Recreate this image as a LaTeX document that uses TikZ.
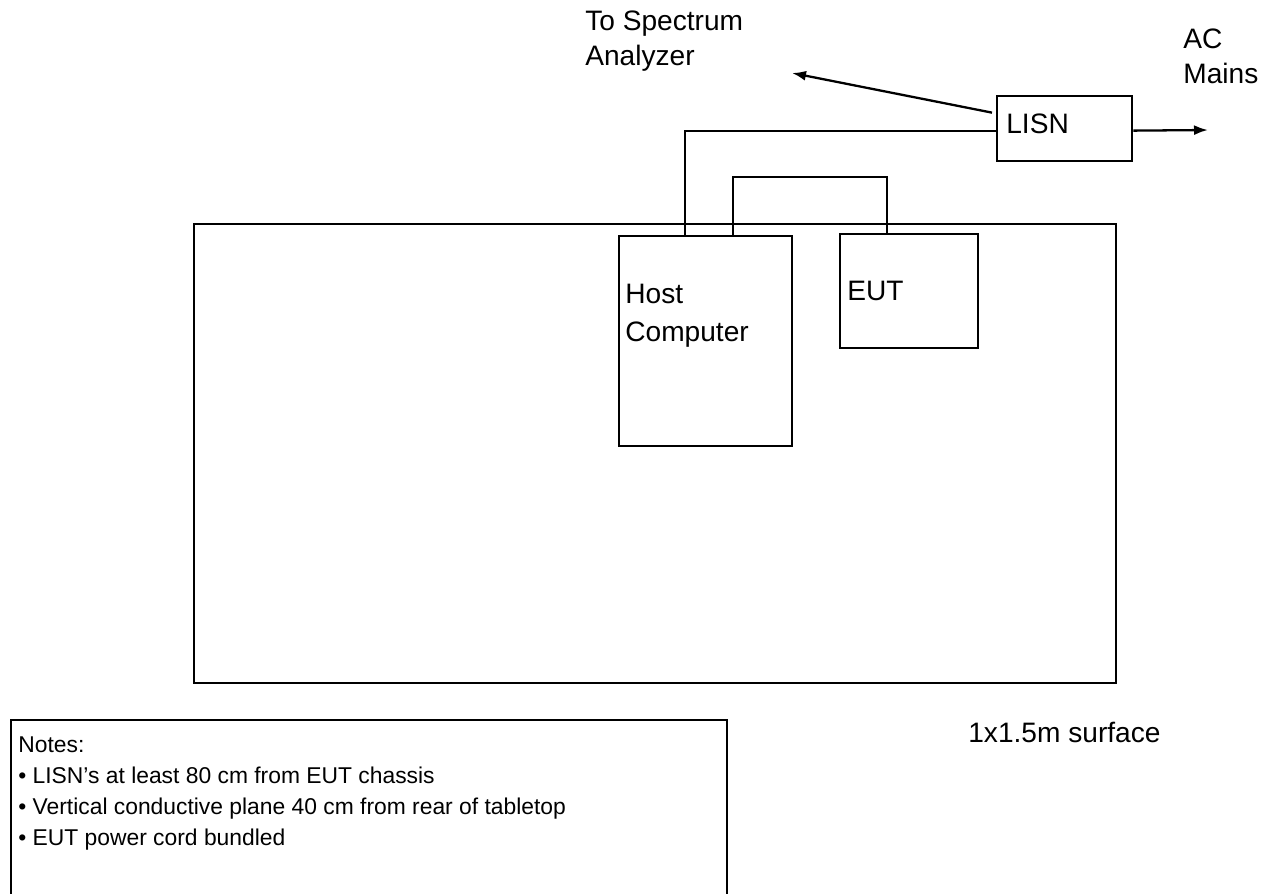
\documentclass[tikz,border=0pt]{standalone}
\usepackage{fontspec}
\setmainfont{Liberation Sans}
\usetikzlibrary{arrows.meta,calc}
\tikzset{
  box/.style={draw, line width=1.3pt, inner sep=0pt, rectangle},
  wire/.style={line width=1.3pt},
  thinwire/.style={line width=1pt},
  arr/.style={line width=1.3pt, -{Latex[length=0.28cm,width=0.2cm]}},
  txt/.style={anchor=base west, inner sep=0pt, font=\fontsize{16}{19}\selectfont},
  note/.style={anchor=base west, inner sep=0pt, font=\fontsize{13}{16}\selectfont},
}
\begin{document}
\begin{tikzpicture}[x=0.02cm, y=-0.02cm]
\useasboundingbox (0,0) rectangle (1264,893);
\clip (0,0) rectangle (1264,893);
% table surface
\node[box, minimum width=18.44cm, minimum height=9.18cm, anchor=north west] (table) at (193,223) {};
% host computer and EUT
\node[box, minimum width=3.46cm, minimum height=4.2cm, anchor=north west] (host) at (618,235) {};
\node[box, minimum width=2.76cm, minimum height=2.28cm, anchor=north west] (eut) at (839,233) {};
\node[box, minimum width=2.7cm, minimum height=1.3cm, anchor=north west] (lisn) at (996,95) {};
% labels
\node[txt] (lisnlbl) at (1006,133) {LISN};
\node[txt] (hostlbl1) at (625,303) {Host};
\node[txt] (hostlbl2) at (625,341) {Computer};
\node[txt] (eutlbl) at (847,300) {EUT};
\node[txt] (spec1) at (585,30) {To Spectrum};
\node[txt] (spec2) at (585,65) {Analyzer};
\node[txt] (ac1) at (1183,48) {AC};
\node[txt] (ac2) at (1183,83) {Mains};
\node[txt] (surf) at (968,742) {1x1.5m surface};
% cables
\coordinate (hostpwr) at ($(host.north west)+(67,0)$);
\draw[thinwire] ($(lisn.west)+(0,2)$) -| (hostpwr);
\coordinate (hostsig) at ($(host.north west)+(115,0)$);
\coordinate (eutsig) at ($(eut.north west)+(48,0)$);
\draw[wire] (hostsig) -- ++(0,-58) -| (eutsig);
% arrows
\coordinate (sa) at (792,73);
\coordinate (mains) at (1208,130);
\draw[arr] ($(lisn.west)+(-4,-16)$) -- (sa);
\draw[arr] ($(lisn.east)+(0,2)$) -- (mains);
% notes box
\coordinate (nb1) at (11,900);
\coordinate (nb2) at (11,720);
\coordinate (nb3) at (727,720);
\coordinate (nb4) at (727,900);
\draw[line width=1.1pt] (nb1) -- (nb2) -- (nb3) -- (nb4);
\node[note] (n0) at (18,752) {Notes:};
\node[note] (n1) at (18,783) {\textbullet\ LISN’s at least 80 cm from EUT chassis};
\node[note] (n2) at (18,814) {\textbullet\ Vertical conductive plane 40 cm from rear of tabletop};
\node[note] (n3) at (18,845) {\textbullet\ EUT power cord bundled};
\end{tikzpicture}
\end{document}
